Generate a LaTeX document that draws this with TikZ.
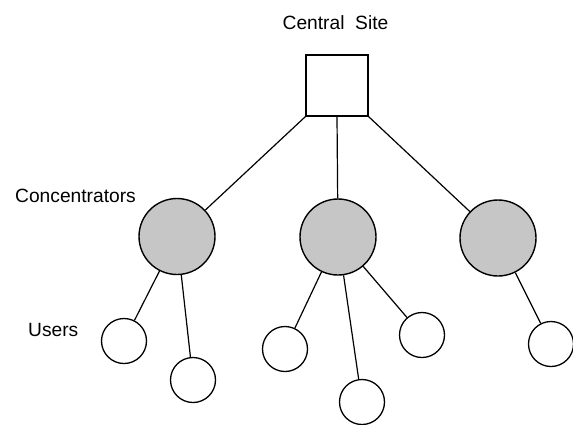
\documentclass[tikz,border=0pt]{standalone}
\usepackage{fontspec}
\setmainfont{Liberation Sans}
\definecolor{StippleGrey}{RGB}{198,198,198}
\tikzset{
  net style/.style={
    x=1pt,y=-1pt,
  },
  site node/.style={
    draw,line width=1.2pt,rectangle,
    minimum width=62pt,minimum height=61pt,inner sep=0pt
  },
  conc node/.style={
    draw,line width=1.4pt,circle,fill=StippleGrey,
    inner sep=0pt,minimum size=76pt
  },
  user node/.style={
    draw,line width=1.3pt,circle,fill=white,
    inner sep=0pt,minimum size=45pt
  },
  link/.style={
    line width=1.2pt,
  },
  caption/.style={
    font=\fontsize{19.2}{23}\selectfont,inner sep=0pt
  },
}

\begin{document}
\begin{tikzpicture}[net style]
  \useasboundingbox (0,0) rectangle (573,424);
  \node[site node] (site) at (337,85.5) {};
  \node[caption] (sitelabel) at (335.5,22.5) {Central\ \ Site};
  % concentrators
  \node[conc node] (k1) at (177,236.5) {};
  \node[conc node] (k2) at (338,237) {};
  \node[conc node] (k3) at (498,238) {};
  \node[caption,anchor=base west] (conclabel) at (15,202) {Concentrators};
  % users
  \node[user node] (u1) at (124,341) {};
  \node[user node] (u2) at (193,380) {};
  \node[user node] (u3) at (285,349) {};
  \node[user node] (u4) at (362,402) {};
  \node[user node] (u5) at (422,335) {};
  \node[user node] (u6) at (551,344) {};
  \node[caption,anchor=base west] (userlabel) at (28,336) {Users};
  \draw[link] (site.south west) -- (k1);
  \draw[link] (site.south) -- (k2);
  \draw[link] (site.south east) -- (k3);
  \draw[link] (k1) -- (u1);
  \draw[link] (k1) -- (u2);
  \draw[link] (k2) -- (u3);
  \draw[link] (k2) -- (u4);
  \draw[link] (k2) -- (u5);
  \draw[link] (k3) -- (u6);
\end{tikzpicture}
\end{document}
